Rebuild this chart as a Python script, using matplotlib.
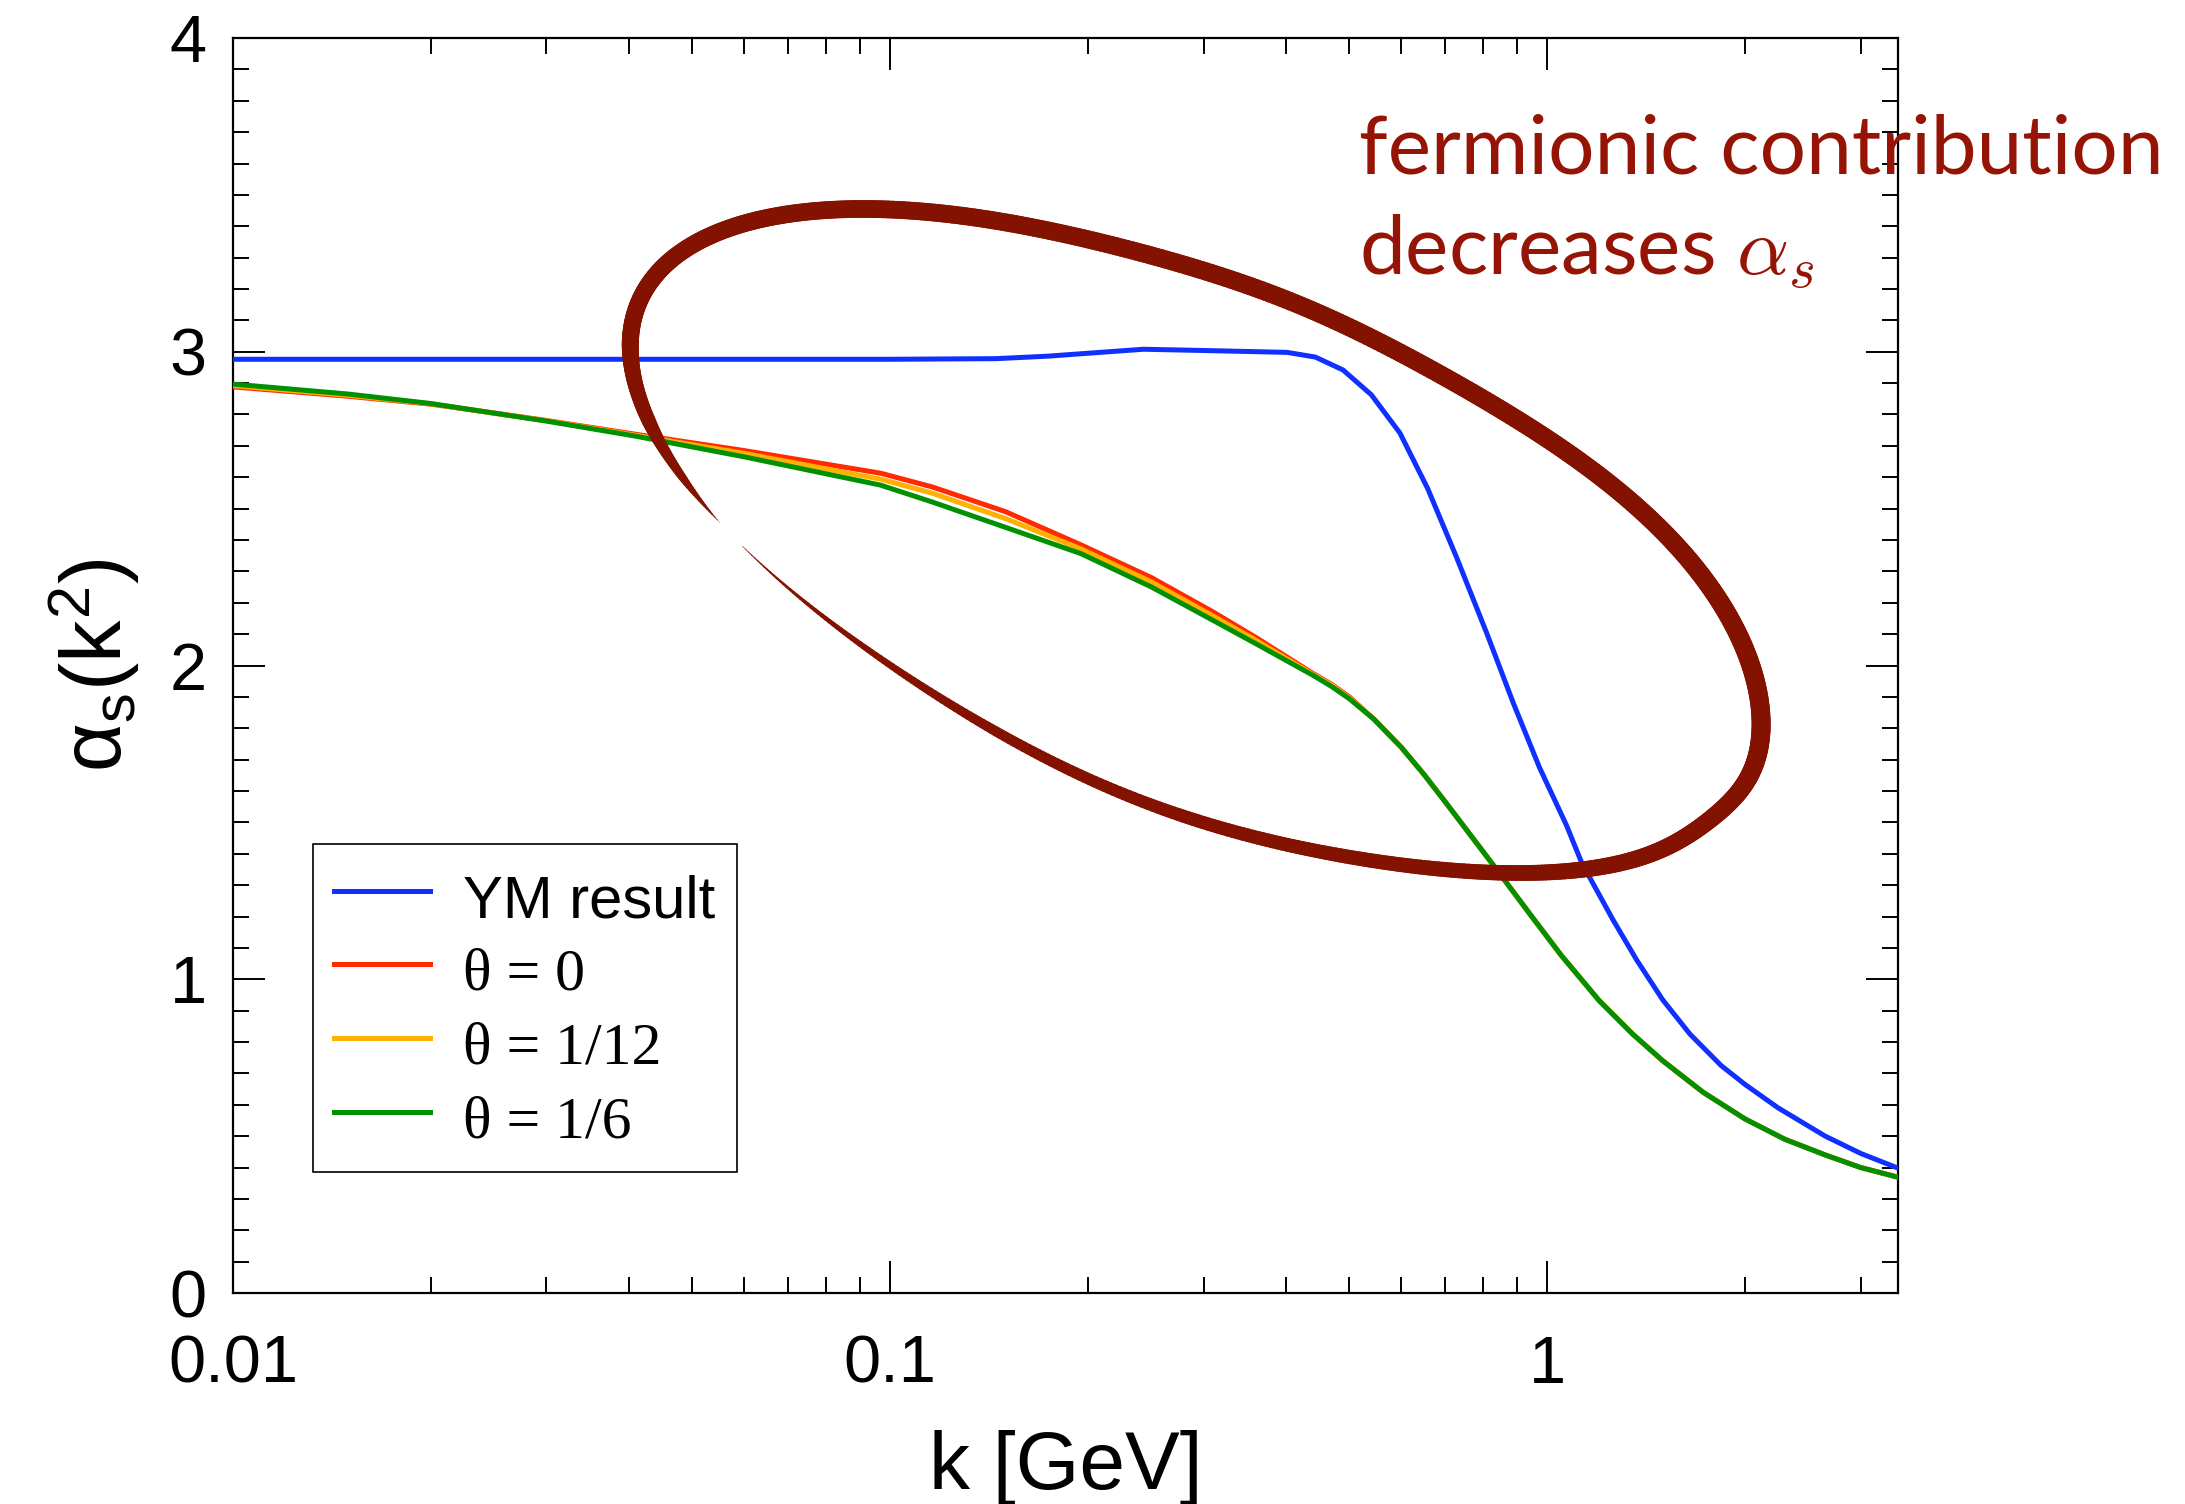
import numpy as np
import matplotlib
matplotlib.use('Agg')
import matplotlib.pyplot as plt
from matplotlib.collections import LineCollection
from matplotlib.ticker import FixedLocator, MultipleLocator, NullFormatter, FuncFormatter

plt.rcParams['font.family'] = ['Liberation Sans', 'DejaVu Sans']
plt.rcParams['mathtext.fontset'] = 'custom'
plt.rcParams['mathtext.rm'] = 'Liberation Sans'
plt.rcParams['mathtext.it'] = 'Liberation Sans:italic'
plt.rcParams['mathtext.bf'] = 'Liberation Sans:bold'

# YM result
k_ym = [0.01, 0.1, 0.145, 0.174, 0.243, 0.3, 0.402, 0.444, 0.489, 0.540, 0.597,
        0.658, 0.728, 0.810, 0.888, 0.974, 1.07, 1.13, 1.26, 1.37, 1.50, 1.65,
        1.84, 2.0, 2.247, 2.65, 3.0, 3.42]
a_ym = [2.976, 2.976, 2.978, 2.986, 3.008, 3.004, 2.998, 2.983, 2.942, 2.863,
        2.741, 2.564, 2.345, 2.101, 1.881, 1.674, 1.491, 1.369, 1.189, 1.06,
        0.934, 0.825, 0.725, 0.665, 0.59, 0.50, 0.445, 0.398]

# with fermions, three values of theta
k_th = [0.01, 0.015, 0.02, 0.03, 0.041, 0.06, 0.0967, 0.116, 0.15, 0.195, 0.25,
        0.31, 0.36, 0.44, 0.47, 0.5, 0.545, 0.6, 0.65, 0.7, 0.826, 0.95, 1.05,
        1.2, 1.35, 1.5, 1.727, 2.0, 2.3, 2.65, 3.0, 3.42]
a_th0 = [2.888, 2.858, 2.833, 2.781, 2.737, 2.685, 2.613, 2.569, 2.49, 2.385,
         2.28, 2.171, 2.09, 1.975, 1.940, 1.900, 1.829, 1.739, 1.652, 1.565,
         1.367, 1.197, 1.077, 0.932, 0.825, 0.74, 0.64, 0.555, 0.49, 0.44,
         0.40, 0.369]
a_th12 = [2.892, 2.861, 2.834, 2.780, 2.734, 2.676, 2.594, 2.549, 2.468, 2.372,
          2.266, 2.158, 2.081, 1.972, 1.938, 1.897, 1.829, 1.739, 1.652, 1.565,
          1.367, 1.197, 1.077, 0.932, 0.825, 0.74, 0.64, 0.555, 0.49, 0.44,
          0.40, 0.369]
a_th6 = [2.897, 2.865, 2.835, 2.779, 2.731, 2.665, 2.575, 2.521, 2.44, 2.357,
         2.25, 2.144, 2.07, 1.969, 1.933, 1.894, 1.829, 1.739, 1.652, 1.565,
         1.367, 1.197, 1.077, 0.932, 0.825, 0.74, 0.64, 0.555, 0.49, 0.44,
         0.40, 0.369]

# hand drawn loop: tilted ellipse in a 1195 x 901 px frame of the axes
loop_c = (856, 388)
loop_ab = (433, 180)
loop_tilt = 23.35
# smooth outward nudges (px) along the loop angle (deg)
nudge_c = [315, 372, 445, 270]
nudge_h = [12, -4, 7, 4]
nudge_s = [32, 12, 22, 15]
# stroke width (px) along the loop angle
width_t = [137, 145, 155, 170, 250, 350, 400, 440, 460, 475, 485, 493]
width_w = [0, 8, 14, 17, 18, 19, 16, 13, 10, 6, 3, 0.5]

fig = plt.figure(figsize=(21.85, 15.04), dpi=100)
ax = fig.add_axes([233 / 2185, 1 - 1293 / 1504, 1665 / 2185, 1255 / 1504])

ax.plot(k_ym, a_ym, color='#0f30ff', lw=3.6, label='YM result', zorder=3)
ax.plot(k_th, a_th0, color='#ff2a00', lw=3.6, label='θ = 0', zorder=3)
ax.plot(k_th, a_th12, color='#ffb000', lw=3.6, label='θ = 1/12', zorder=3)
ax.plot(k_th, a_th6, color='#009000', lw=3.6, label='θ = 1/6', zorder=3)

ax.set_xscale('log')
ax.set_xlim(0.01, 3.42)
ax.set_ylim(0, 4)
ax.xaxis.set_major_locator(FixedLocator([0.01, 0.1, 1]))
ax.xaxis.set_major_formatter(FuncFormatter(lambda v, _: f'{v:g}'))
minors = [m * d for d in (0.01, 0.1, 1) for m in range(2, 10) if m * d < 3.42]
ax.xaxis.set_minor_locator(FixedLocator(minors))
ax.xaxis.set_minor_formatter(NullFormatter())
ax.yaxis.set_major_locator(MultipleLocator(1))
ax.yaxis.set_minor_locator(MultipleLocator(0.1))

ax.tick_params(which='both', direction='in', top=True, right=True, width=1.4,
               labelsize=48)
ax.tick_params(which='major', length=23)
ax.tick_params(which='minor', length=11.5)
ax.tick_params(axis='x', pad=30)
ax.tick_params(axis='y', pad=19)
for s in ax.spines.values():
    s.set_linewidth(1.6)

ax.set_xlabel('k [GeV]', fontsize=59, labelpad=24)
ax.set_ylabel(r'$\mathrm{\alpha_s(k^2)}$', fontsize=61, labelpad=20)

# the loop
t = np.radians(np.arange(137, 493.01, 0.5))
phi = np.radians(loop_tilt)
a, b = loop_ab
ex = loop_c[0] + a * np.cos(t) * np.cos(phi) - b * np.sin(t) * np.sin(phi)
ey = loop_c[1] + a * np.cos(t) * np.sin(phi) + b * np.sin(t) * np.cos(phi)
dx = -a * np.sin(t) * np.cos(phi) - b * np.cos(t) * np.sin(phi)
dy = -a * np.sin(t) * np.sin(phi) + b * np.cos(t) * np.cos(phi)
norm = np.hypot(dx, dy)
nx, ny = dy / norm, -dx / norm  # outward normal (screen y down)
tdeg = np.degrees(t)
d = np.zeros_like(tdeg)
for c, h, s in zip(nudge_c, nudge_h, nudge_s):
    d += h * np.exp(-((tdeg - c) / s) ** 2)
px = ex + d * nx
py = ey + d * ny
w = np.interp(tdeg, width_t, width_w)
fx = (px - 167) / 1195
fy = (928 - py) / 901
xy = np.column_stack([fx, fy])
segs = np.stack([xy[:-1], xy[1:]], axis=1)
seg_w = 0.5 * (w[:-1] + w[1:]) * 0.72
lc = LineCollection(segs, linewidths=seg_w, colors='#841200', capstyle='round',
                    transform=ax.transAxes, zorder=4)
ax.add_collection(lc)

leg = ax.legend(loc='upper left', bbox_to_anchor=(0.048, 0.358), fontsize=43,
                frameon=True, fancybox=False, framealpha=1, edgecolor='black',
                handlelength=1.6, handletextpad=0.56, borderpad=0.36,
                handleheight=1.26, labelspacing=0.15, borderaxespad=0)
leg.get_frame().set_linewidth(1.2)
for tx in leg.get_texts()[1:]:
    tx.set_fontfamily(['Liberation Serif', 'DejaVu Serif'])
for h in leg.get_lines():
    h.set_linewidth(3.6)

fig.text(1359 / 2185, 1 - 174 / 1504, 'fermionic contribution', fontsize=59,
         color='#961405', family='Lato', va='baseline')
fig.text(1359 / 2185, 1 - 275 / 1504, r'decreases $\alpha_s$', fontsize=59,
         color='#961405', family='Lato', va='baseline', math_fontfamily='cm')

fig.savefig('out.png', dpi=100)
